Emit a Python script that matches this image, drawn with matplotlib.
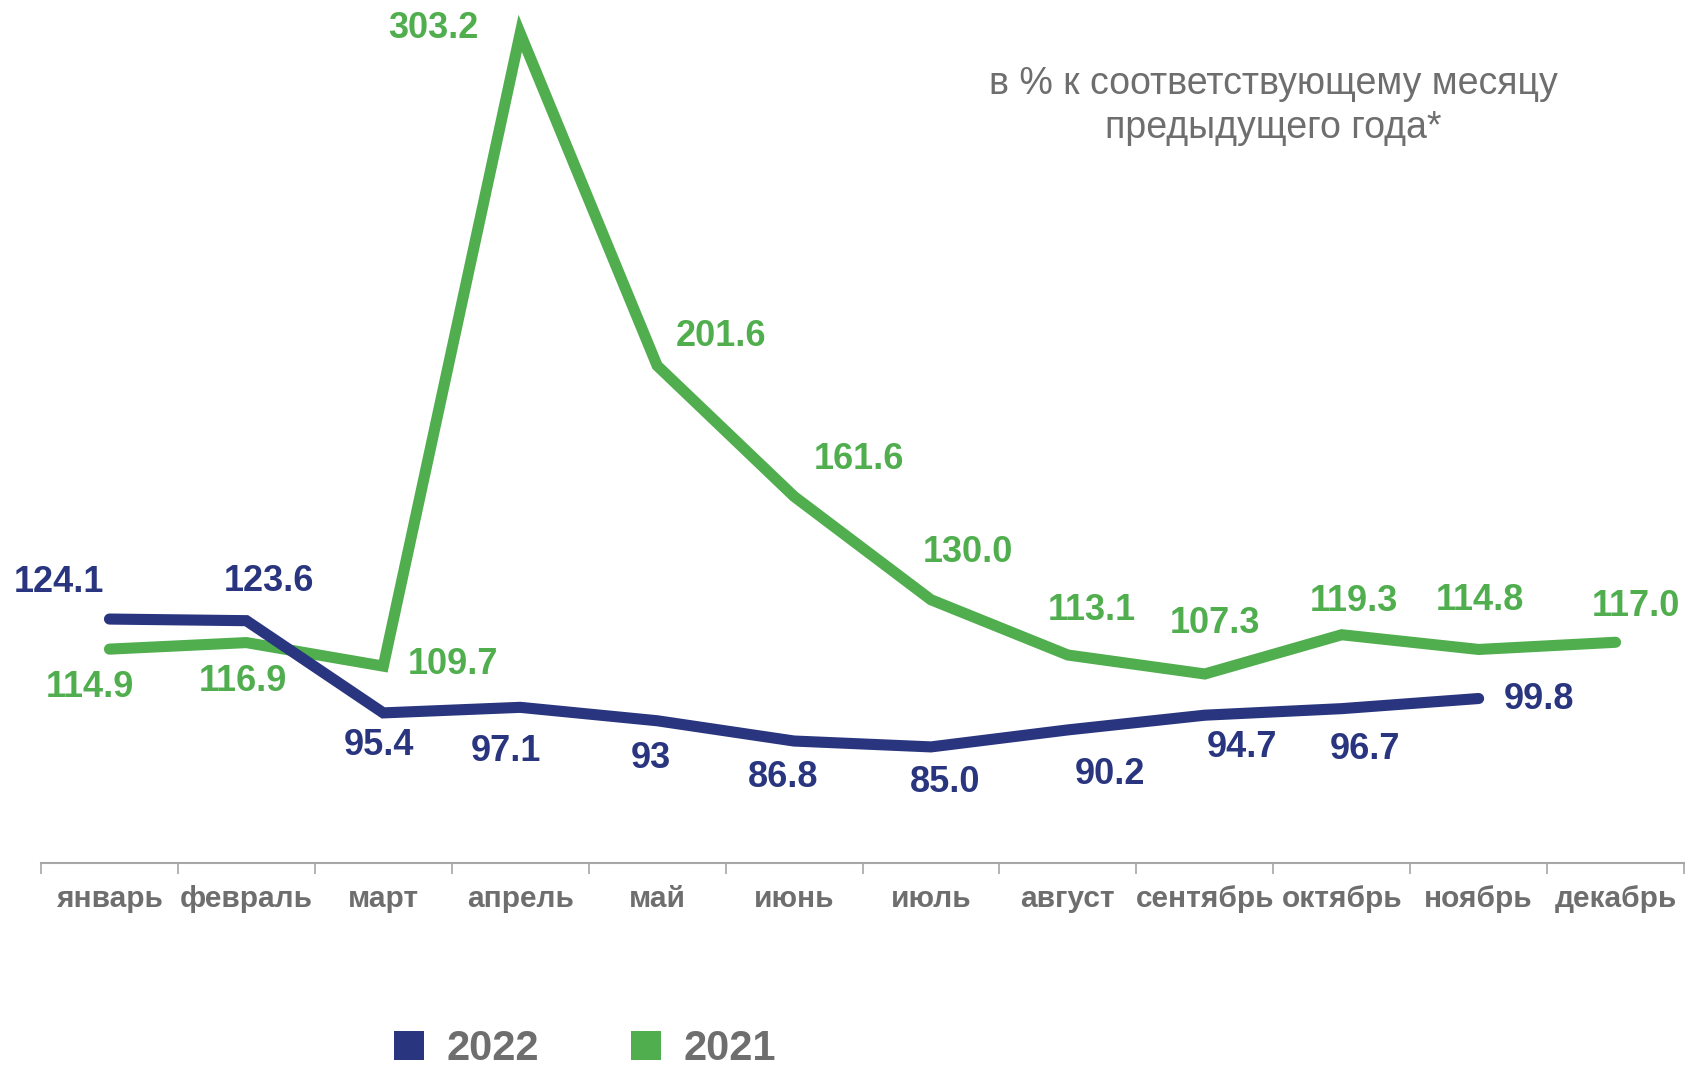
import matplotlib
matplotlib.use("Agg")
import matplotlib.pyplot as plt
from matplotlib.patches import Patch
import numpy as np

months = ["январь", "февраль", "март", "апрель", "май", "июнь", "июль",
          "август", "сентябрь", "октябрь", "ноябрь", "декабрь"]

values_2022 = [124.1, 123.6, 95.4, 97.1, 93, 86.8, 85.0, 90.2, 94.7, 96.7, 99.8]
labels_2022 = ["124.1", "123.6", "95.4", "97.1", "93", "86.8", "85.0", "90.2", "94.7", "96.7", "99.8"]

values_2021 = [114.9, 116.9, 109.7, 303.2, 201.6, 161.6, 130.0, 113.1, 107.3, 119.3, 114.8, 117.0]
labels_2021 = ["114.9", "116.9", "109.7", "303.2", "201.6", "161.6", "130.0", "113.1", "107.3", "119.3", "114.8", "117.0"]

# label offsets in pixels (dx, dy)
off_2022 = [(-51, 37), (23, 39), (-4, -33), (-14, -44), (-6, -38), (-11, -36),
            (14, -36), (42, -45), (37, -32), (23, -41), (60, -1)]
off_2021 = [(-20, -38), (-3, -39), (70, 2), (-87, 5), (64, 29), (65, 37),
            (37, 47), (24, 45), (10, 50), (12, 33), (1, 49), (20, 36)]

blue = "#29357F"
green = "#50AE4E"
gray = "#6E6E6E"

plt.rcParams['font.family'] = ['Liberation Sans', 'DejaVu Sans']

W, H = 1691, 1070
fig = plt.figure(figsize=(W / 100, H / 100), dpi=100)
ax = fig.add_axes([41 / W, 1 - 863 / H, (1684 - 41) / W, 863 / H])

x22 = np.arange(len(values_2022))
x21 = np.arange(len(values_2021))

ax.plot(x21, values_2021, color=green, lw=8, solid_capstyle='round',
        solid_joinstyle='miter', clip_on=False, zorder=2)
ax.plot(x22, values_2022, color=blue, lw=8, solid_capstyle='round',
        solid_joinstyle='miter', clip_on=False, zorder=3)

for xi, v, lab, (dx, dy) in zip(x22, values_2022, labels_2022, off_2022):
    ax.annotate(lab, (xi, v), xytext=(dx, dy), textcoords='offset pixels',
                ha='center', va='center', fontsize=26, fontweight='bold',
                color=blue, annotation_clip=False)
for xi, v, lab, (dx, dy) in zip(x21, values_2021, labels_2021, off_2021):
    ax.annotate(lab, (xi, v), xytext=(dx, dy), textcoords='offset pixels',
                ha='center', va='center', fontsize=26, fontweight='bold',
                color=green, annotation_clip=False)

ax.set_xlim(-0.5, 11.5)
ax.set_ylim(49.5, 313.4)

for s in ['top', 'right', 'left']:
    ax.spines[s].set_visible(False)
ax.spines['bottom'].set_color('#A6A6A6')
ax.spines['bottom'].set_linewidth(1.5)
ax.set_yticks([])

ax.set_xticks(np.arange(12))
ax.set_xticklabels(months)
ax.set_xticks(np.arange(-0.5, 12.0, 1.0), minor=True)
ax.tick_params(axis='x', which='major', length=0, pad=16, labelsize=21.5,
               labelcolor=gray)
ax.tick_params(axis='x', which='minor', length=8, width=1.2, color='#A6A6A6')
for t in ax.get_xticklabels():
    t.set_fontweight('bold')

fig.text(1273 / W, 1 - 106 / H, "в % к соответствующему месяцу\nпредыдущего года*",
         ha='center', va='center', fontsize=27, color=gray, linespacing=1.3)

handles = [Patch(facecolor=blue, edgecolor='none', label='2022'),
           Patch(facecolor=green, edgecolor='none', label='2021')]
fig.legend(handles=handles, loc='lower left', bbox_to_anchor=(394 / W, 1 / H),
           ncol=2, frameon=False, borderpad=0, borderaxespad=0,
           handlelength=0.72, handleheight=0.72, handletextpad=0.55,
           columnspacing=2.2,
           prop={'size': 30, 'weight': 'bold'}, labelcolor=gray)

fig.savefig("out.png", dpi=100)
